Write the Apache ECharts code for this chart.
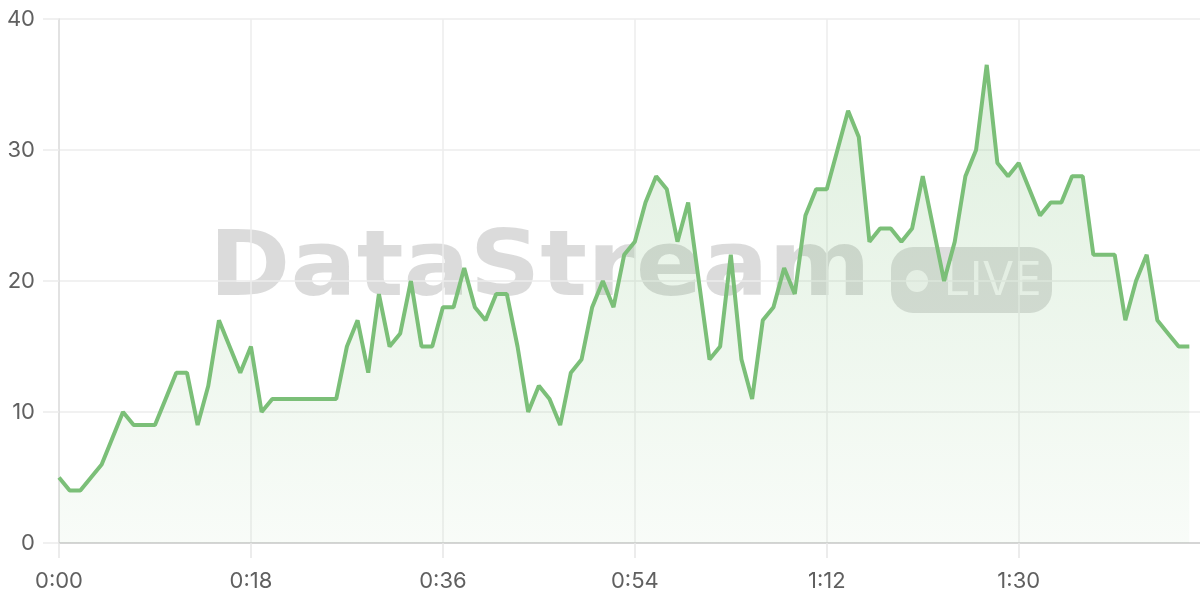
<!DOCTYPE html>
<html>
<head>
<meta charset="utf-8">
<script src="https://cdn.jsdelivr.net/npm/echarts@6/dist/echarts.min.js"></script>
<style>
html,body{margin:0;padding:0;background:#fff;}
#chart{width:1200px;height:600px;}
</style>
</head>
<body>
<div id="chart"></div>
<script>
// Values per second (0:00 .. 1:46)
const values = [
  5, 4, 4, 5, 6, 8, 10, 9, 9, 9,
  11, 13, 13, 9, 12, 17, 15, 13, 15, 10,
  11, 11, 11, 11, 11, 11, 11, 15, 17, 13,
  19, 15, 16, 20, 15, 15, 18, 18, 21, 18,
  17, 19, 19, 15, 10, 12, 11, 9, 13, 14,
  18, 20, 18, 22, 23, 26, 28, 27, 23, 26,
  20, 14, 15, 22, 14, 11, 17, 18, 21, 19,
  25, 27, 27, 30, 33, 31, 23, 24, 24, 23,
  24, 28, 24, 20, 23, 28, 30, 36.5, 29, 28,
  29, 27, 25, 26, 26, 28, 28, 22, 22, 22,
  17, 20, 22, 17, 16, 15, 15
];
const axisSeconds = 108; // axis spans 0:00 .. 1:47
const categories = [];
for (let s = 0; s < axisSeconds; s++) {
  categories.push(Math.floor(s / 60) + ':' + String(s % 60).padStart(2, '0'));
}
const yTicks = [0, 10, 20, 30, 40];
const watermarkText = 'DataStream';
const badgeText = 'LIVE';

const FONT = 'Inter, "Noto Sans", sans-serif';
const chart = echarts.init(document.getElementById('chart'), null, {renderer: 'canvas'});
chart.setOption({
  animation: false,
  backgroundColor: '#ffffff',
  grid: {left: 59, right: 0, top: 19, bottom: 57, containLabel: false},
  xAxis: {
    type: 'category',
    data: categories,
    boundaryGap: false,
    axisLine: {show: true, lineStyle: {color: '#cccccc', width: 1.5}},
    axisTick: {show: true, interval: 17, length: 15, lineStyle: {color: '#e6e6e6', width: 1.5}},
    axisLabel: {interval: 17, margin: 27, color: '#606060', fontSize: 22, fontFamily: FONT},
    splitLine: {show: true, interval: 17, lineStyle: {color: '#ececec', width: 1.5}}
  },
  yAxis: {
    type: 'value',
    min: yTicks[0],
    max: yTicks[yTicks.length - 1],
    interval: 10,
    axisLine: {show: true, lineStyle: {color: '#dddddd', width: 1.5}},
    axisTick: {show: true, length: 16, lineStyle: {color: '#ececec', width: 1.5}},
    axisLabel: {margin: 24, color: '#606060', fontSize: 22, fontFamily: FONT},
    splitLine: {show: true, lineStyle: {color: '#ececec', width: 1.5}}
  },
  graphic: [
    {
      type: 'group',
      z: 1,
      silent: true,
      children: [
        {
          type: 'group',
          x: 209, y: 272, scaleX: 1.09,
          children: [{
            type: 'text',
            x: 0, y: 0,
            style: {
              text: watermarkText,
              font: 'bold 90px "DejaVu Sans", sans-serif',
              fill: 'rgba(0,0,0,0.14)',
              align: 'left',
              verticalAlign: 'middle'
            }
          }]
        },
        {
          type: 'rect',
          shape: {x: 891, y: 247, width: 161, height: 66, r: 22},
          style: {fill: 'rgba(0,0,0,0.13)'}
        },
        {
          type: 'circle',
          shape: {cx: 917, cy: 281, r: 11},
          style: {fill: 'rgba(255,255,255,0.75)'}
        },
        {
          type: 'text',
          x: 944, y: 281,
          style: {
            text: badgeText,
            font: '46px ' + FONT,
            fill: 'rgba(255,255,255,0.75)',
            verticalAlign: 'middle',
            align: 'left'
          }
        }
      ]
    }
  ],
  series: [{
    type: 'line',
    data: values,
    symbol: 'none',
    smooth: false,
    z: 3,
    lineStyle: {color: '#7bbf78', width: 4},
    areaStyle: {
      color: new echarts.graphic.LinearGradient(0, 0, 0, 1, [
        {offset: 0, color: 'rgba(123,191,120,0.34)'},
        {offset: 1, color: 'rgba(123,191,120,0.07)'}
      ])
    }
  }]
});
</script>
</body>
</html>
